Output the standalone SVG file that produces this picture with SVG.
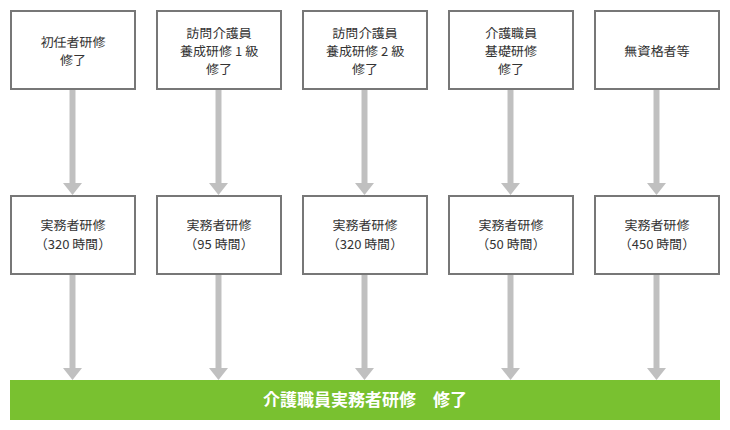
<svg xmlns="http://www.w3.org/2000/svg" width="730" height="430" viewBox="0 0 730 430">
<style>
.box{fill:#fff;stroke:#777;stroke-width:2}
.t{font-family:"Noto Sans JP","Noto Sans CJK JP",sans-serif;font-size:13px;fill:#333;text-anchor:middle}
.shaft{stroke:#c0c0c0;stroke-width:6;fill:none}
.head{fill:#c0c0c0}
.g{fill:#79c130}
.gt{font-family:"Noto Sans CJK JP",sans-serif;font-size:17px;fill:#fff;text-anchor:middle;font-weight:bold}
</style>
<defs>
<path id="ah" class="head" d="M-9.5,0 L9.5,0 L0,12 Z"/>
</defs>
<g id="connectors">
<line class="shaft" x1="72.5" y1="90" x2="72.5" y2="184"/><use href="#ah" x="72.5" y="183"/>
<line class="shaft" x1="218.5" y1="90" x2="218.5" y2="184"/><use href="#ah" x="218.5" y="183"/>
<line class="shaft" x1="364.5" y1="90" x2="364.5" y2="184"/><use href="#ah" x="364.5" y="183"/>
<line class="shaft" x1="510.5" y1="90" x2="510.5" y2="184"/><use href="#ah" x="510.5" y="183"/>
<line class="shaft" x1="656.5" y1="90" x2="656.5" y2="184"/><use href="#ah" x="656.5" y="183"/>
<line class="shaft" x1="72.5" y1="275" x2="72.5" y2="369"/><use href="#ah" x="72.5" y="368"/>
<line class="shaft" x1="218.5" y1="275" x2="218.5" y2="369"/><use href="#ah" x="218.5" y="368"/>
<line class="shaft" x1="364.5" y1="275" x2="364.5" y2="369"/><use href="#ah" x="364.5" y="368"/>
<line class="shaft" x1="510.5" y1="275" x2="510.5" y2="369"/><use href="#ah" x="510.5" y="368"/>
<line class="shaft" x1="656.5" y1="275" x2="656.5" y2="369"/><use href="#ah" x="656.5" y="368"/>
</g>
<g id="n1"><rect class="box" x="11" y="11" width="124" height="78"/>
<text class="t" x="73" y="47">初任者研修</text><text class="t" x="73" y="65">修了</text></g>
<g id="n2"><rect class="box" x="157" y="11" width="124" height="78"/>
<text class="t" x="219" y="38">訪問介護員</text><text class="t" x="219" y="56">養成研修 1 級</text><text class="t" x="219" y="74">修了</text></g>
<g id="n3"><rect class="box" x="303" y="11" width="124" height="78"/>
<text class="t" x="365" y="38">訪問介護員</text><text class="t" x="365" y="56">養成研修 2 級</text><text class="t" x="365" y="74">修了</text></g>
<g id="n4"><rect class="box" x="449" y="11" width="124" height="78"/>
<text class="t" x="511" y="38">介護職員</text><text class="t" x="511" y="56">基礎研修</text><text class="t" x="511" y="74">修了</text></g>
<g id="n5"><rect class="box" x="595" y="11" width="124" height="78"/>
<text class="t" x="657" y="56">無資格者等</text></g>
<g id="m1"><rect class="box" x="11" y="196" width="124" height="78"/>
<text class="t" x="73" y="230">実務者研修</text><text class="t" x="73" y="249">（320 時間）</text></g>
<g id="m2"><rect class="box" x="157" y="196" width="124" height="78"/>
<text class="t" x="219" y="230">実務者研修</text><text class="t" x="219" y="249">（95 時間）</text></g>
<g id="m3"><rect class="box" x="303" y="196" width="124" height="78"/>
<text class="t" x="365" y="230">実務者研修</text><text class="t" x="365" y="249">（320 時間）</text></g>
<g id="m4"><rect class="box" x="449" y="196" width="124" height="78"/>
<text class="t" x="511" y="230">実務者研修</text><text class="t" x="511" y="249">（50 時間）</text></g>
<g id="m5"><rect class="box" x="595" y="196" width="124" height="78"/>
<text class="t" x="657" y="230">実務者研修</text><text class="t" x="657" y="249">（450 時間）</text></g>
<g id="goal"><rect class="g" x="10" y="380" width="710" height="40"/>
<text class="gt" x="365" y="406">介護職員実務者研修　修了</text></g>
</svg>
